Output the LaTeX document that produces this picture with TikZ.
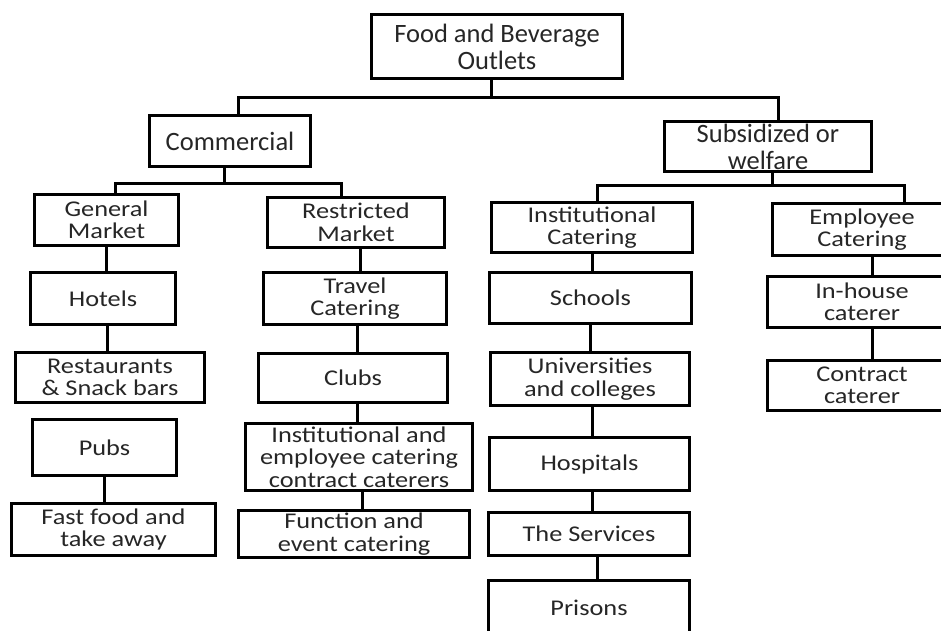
\documentclass[tikz,border=0pt]{standalone}
\usepackage{fontspec}
\setmainfont{Carlito}
\newfontfamily\widefont[FakeStretch=1.17]{Carlito}
\tikzset{
  box/.style={draw, rectangle, line width=3.1pt, inner sep=0pt, align=center, text=black!85},
  headbox/.style={box, font=\fontsize{26.5}{27}\selectfont},
  itembox/.style={box, font=\widefont\fontsize{22.5}{22.5}\selectfont},
  link/.style={line width=3pt}
}

\begin{document}
\begin{tikzpicture}[x=1pt,y=-1pt]
  \useasboundingbox (0,0) rectangle (941,630);
  \clip (0,0) rectangle (941,630);
  % top levels
  \node[headbox, minimum width=251, minimum height=64] (root) at (497,46.5) {Food and Beverage\\Outlets};
  \node[headbox, minimum width=161, minimum height=51] (comm) at (230,141) {Commercial};
  \node[headbox, minimum width=207, minimum height=50] (subs) at (768,146.5) {Subsidized or\\welfare};
  % commercial side
  \node[itembox, minimum width=144, minimum height=51] (gen) at (106.5,220) {General\\Market};
  \node[itembox, minimum width=145, minimum height=52] (hotels) at (103,298.5) {Hotels};
  \node[itembox, minimum width=189, minimum height=50] (rest) at (110,377.5) {Restaurants\\\& Snack bars};
  \node[itembox, minimum width=144, minimum height=56] (pubs) at (104.5,447.5) {Pubs};
  \node[itembox, minimum width=204, minimum height=52] (fast) at (113.5,529.5) {Fast food and\\take away};
  \node[itembox, minimum width=177, minimum height=50] (restr) at (356,222.5) {Restricted\\Market};
  \node[itembox, minimum width=183, minimum height=52] (travel) at (355,298.5) {Travel\\Catering};
  \node[itembox, minimum width=189, minimum height=49] (clubs) at (353,378) {Clubs};
  \node[itembox, minimum width=227, minimum height=67] (instemp) at (359,457) {Institutional and\\employee catering\\contract caterers};
  \node[itembox, minimum width=231, minimum height=47] (func) at (354,534) {Function and\\event catering};
  % subsidized side
  \node[itembox, minimum width=201, minimum height=50] (inst) at (592,227.5) {Institutional\\Catering};
  \node[itembox, minimum width=202, minimum height=51] (schools) at (590.5,298) {Schools};
  \node[itembox, minimum width=199, minimum height=53] (univ) at (590,379) {Universities\\and colleges};
  \node[itembox, minimum width=200, minimum height=53] (hosp) at (589.5,464) {Hospitals};
  \node[itembox, minimum width=201, minimum height=43] (serv) at (589,534) {The Services};
  \node[itembox, minimum width=201, minimum height=55] (prisons) at (589,608) {Prisons};
  \node[itembox, minimum width=179, minimum height=52] (empl) at (862,229.5) {Employee\\Catering};
  \node[itembox, minimum width=189, minimum height=51] (inhouse) at (862,302) {In-house\\caterer};
  \node[itembox, minimum width=189, minimum height=50] (contract) at (862,385.5) {Contract\\caterer};
  % branches
  \draw[link] ([xshift=-6pt]root.south) -- ++(0,17) coordinate (j0);
  \draw[link] ([xshift=8pt]comm.north) |- (j0) -| ([xshift=10pt]subs.north);
  \draw[link] ([xshift=-6pt]comm.south) -- ++(0,15) coordinate (j1);
  \draw[link] ([xshift=8.5pt]gen.north) |- (j1) -| ([xshift=-15pt]restr.north);
  \draw[link] ([xshift=4pt]subs.south) -- ++(0,12) coordinate (j2);
  \draw[link] ([xshift=5pt]inst.north) |- (j2) -| ([xshift=42pt]empl.north);
  % chains
  \draw[link] (gen.south) -- (gen.south |- hotels.north)
    ([xshift=4pt]hotels.south) -- ([xshift=4pt]hotels.south |- rest.north)
    (pubs.south) -- (pubs.south |- fast.north)
    ([xshift=4pt]restr.south) -- ([xshift=4pt]restr.south |- travel.north)
    ([xshift=2pt]travel.south) -- ([xshift=2pt]travel.south |- clubs.north)
    ([xshift=4pt]clubs.south) -- ([xshift=4pt]clubs.south |- instemp.north)
    ([xshift=3pt]instemp.south) -- ([xshift=3pt]instemp.south |- func.north)
    (inst.south) -- (inst.south |- schools.north)
    (schools.south) -- (schools.south |- univ.north)
    ([xshift=2pt]univ.south) -- ([xshift=2pt]univ.south |- hosp.north)
    ([xshift=3pt]hosp.south) -- ([xshift=3pt]hosp.south |- serv.north)
    ([xshift=8pt]serv.south) -- ([xshift=8pt]serv.south |- prisons.north)
    ([xshift=10pt]empl.south) -- ([xshift=10pt]empl.south |- inhouse.north)
    ([xshift=10pt]inhouse.south) -- ([xshift=10pt]inhouse.south |- contract.north);
\end{tikzpicture}
\end{document}
